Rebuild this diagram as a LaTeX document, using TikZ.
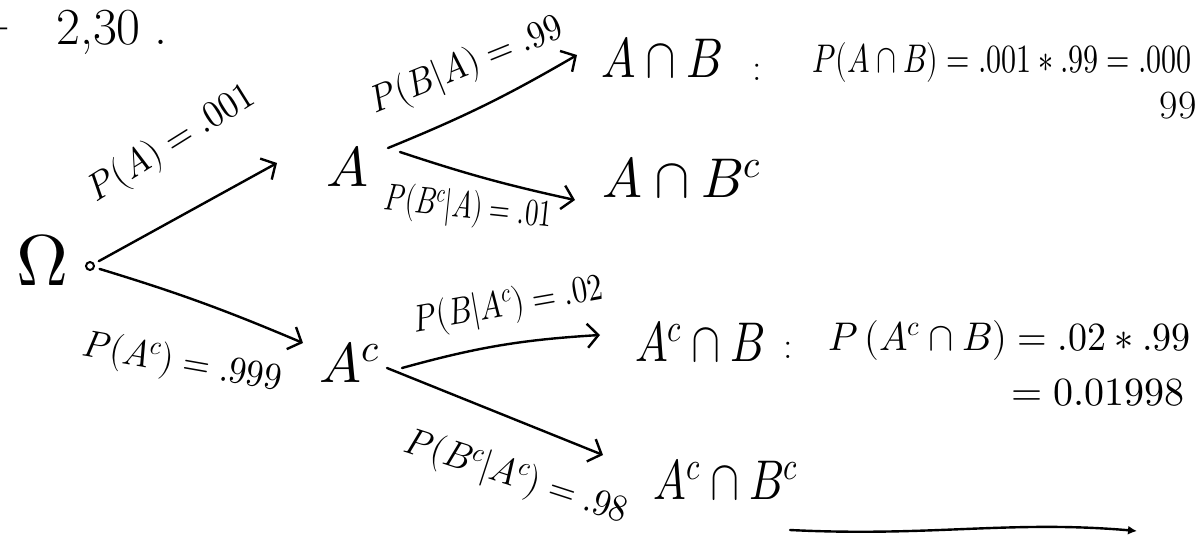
\documentclass[tikz,border=0pt]{standalone}
\usepackage{graphicx}
\usepackage{unicode-math}
\setmathfont{Latin Modern Math}
\usetikzlibrary{arrows.meta}
\newcommand{\nar}[2]{\scalebox{#1}[1]{#2}}
\begin{document}
\begin{tikzpicture}[x=1pt,y=-1pt,
  arr/.style={line width=2.4pt, line cap=round, -{Straight Barb[length=11pt,width=24pt,line width=2.4pt]}},
  big/.style={inner sep=0pt, font=\fontsize{56}{62}\selectfont},
  lbl/.style={inner sep=0pt, font=\fontsize{38}{44}\selectfont},
  fml/.style={inner sep=0pt, font=\fontsize{40}{46}\selectfont}]
\useasboundingbox (0,0) rectangle (1196,549);
\clip (0,0) rectangle (1196,549);
% heading
\node[fml] (dash) at (4,33) {-};
\node[fml,anchor=west,font=\fontsize{52}{58}\selectfont] (num) at (56,32) {2,30\hspace{14pt}.};
% tree nodes
\node[big,font=\fontsize{72}{78}\selectfont] (omega) at (42,260) {$\Omega$};
\node[circle,draw,line width=2pt,inner sep=0pt,minimum size=8pt] (root) at (90,266) {};
\node[big] (A) at (347,166) {$A$};
\node[big] (Ac) at (350,362) {$A^c$};
\node[big] (AB) at (662,58) {\nar{0.82}{$A\cap B$}};
\node[big] (ABc) at (682,178) {\nar{0.95}{$A\cap B^c$}};
\node[big] (AcB) at (700,342) {\nar{0.78}{$A^c\cap B$}};
\node[big] (AcBc) at (726,480) {\nar{0.78}{$A^c\cap B^c$}};
% branches
\draw[arr,shorten <=5pt] (root) -- ([shift={(-70,-3)}]A.center);
\draw[arr,shorten <=5pt] (root) to[bend left=3] ([shift={(-47,-19)}]Ac.center);
\draw[arr] ([shift={(41,-18)}]A.center) to[bend right=4] ([shift={(-85,-3)}]AB.center);
\draw[arr] ([shift={(53,-14)}]A.center) to[bend right=3] ([shift={(-107,22)}]ABc.center);
\draw[arr] ([shift={(52,6)}]Ac.center) to[bend left=6] ([shift={(-100,-7)}]AcB.center);
\draw[arr] ([shift={(37,6)}]Ac.center) -- ([shift={(-123,-25)}]AcBc.center);
% branch labels
\node[lbl,rotate=32] (pA) at (172,144) {\nar{0.92}{$P(A)=.001$}};
\node[lbl,rotate=-10] (pAc) at (182,364) {\nar{0.92}{$P(A^c)=.999$}};
\node[lbl,rotate=22] (pBA) at (467,66) {\nar{0.9}{$P(B|A)=.99$}};
\node[lbl,rotate=-6] (pBcA) at (468,209) {\nar{0.7}{$P(B^c|A)=.01$}};
\node[lbl,rotate=10] (pBAc) at (508,306) {\nar{0.8}{$P(B|A^c)=.02$}};
\node[lbl,rotate=-18] (pBcAc) at (516,478) {\nar{0.92}{$P(B^c|A^c)=.98$}};
% results
\node[lbl] (c1) at (757,72) {:};
\node[fml,anchor=west] (f1) at (812,62) {\nar{0.75}{$P(A\cap B)=.001\ast.99=.000$}};
\node[fml] (f1b) at (1178,106) {99};
\node[lbl] (c2) at (788,350) {:};
\node[fml,anchor=west] (f2) at (828,340) {\nar{0.95}{$P\,(A^c\cap B)=.02\ast.99$}};
\node[fml] (f2b) at (1098,393) {$=0.01998$};
% bottom arrow
\coordinate (bl) at (790,530);
\coordinate (br) at (1137,531);
\draw[line width=2.4pt, line cap=round, -{Latex[length=9pt,width=9pt]}] (bl) .. controls (930,537) and (1010,520) .. (br);
\end{tikzpicture}
\end{document}
